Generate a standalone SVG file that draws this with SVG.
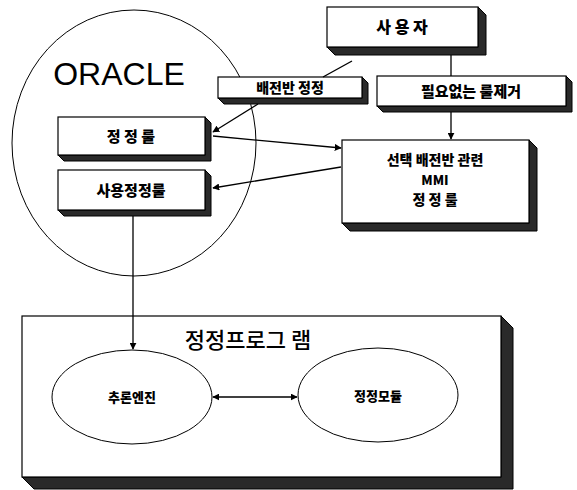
<svg xmlns="http://www.w3.org/2000/svg" width="577" height="490" viewBox="0 0 577 490">
<style>
.box{fill:#fff;stroke:#000;stroke-width:1.2}
.sh{fill:#2a2a2a;stroke:#000;stroke-width:1}
.ell{fill:#fff;stroke:#000;stroke-width:1}
.t{font-family:"Noto Sans CJK KR",sans-serif;font-weight:900;text-anchor:middle;fill:#000}
.ln{stroke:#000;stroke-width:1.3;fill:none}
</style>
<defs>
<marker id="ah" viewBox="0 0 10 10" refX="9" refY="5" markerWidth="7" markerHeight="7" orient="auto-start-reverse" markerUnits="userSpaceOnUse">
<path d="M0,0 L10,5 L0,10 z" fill="#000"/>
</marker>
</defs>
<rect width="577" height="490" fill="#fff"/>

<g id="oracle">
<ellipse class="ell" cx="134" cy="143" rx="122" ry="133"/>
<text x="119" y="85" font-family="Liberation Sans,Arial,sans-serif" font-size="32" text-anchor="middle">ORACLE</text>
</g>

<g id="program">
<polygon class="sh" points="22,477 34,489 513,489 513,328 501,316 501,477"/>
<rect class="box" x="22" y="316" width="479" height="161"/>
<text class="t" x="248" y="348" font-size="22" style="font-weight:500">정정프로그 램</text>
</g>

<g id="user">
<polygon class="sh" points="327,47 335,55 486,55 486,15 478,7 478,47"/>
<rect class="box" x="327" y="7" width="151" height="40"/>
<text class="t" x="402" y="33" font-size="16">사 용 자</text>
</g>

<g id="panel">
<polygon class="sh" points="218,98 224,104 368,104 368,83 362,77 362,98"/>
<rect class="box" x="218" y="77" width="144" height="21"/>
<text class="t" x="290" y="93" font-size="14">배전반 정정</text>
</g>

<g id="remove">
<polygon class="sh" points="377,106 383,112 572,112 572,82 566,76 566,106"/>
<rect class="box" x="377" y="76" width="189" height="30"/>
<text class="t" x="471" y="97" font-size="15">필요없는  룰제거</text>
</g>

<g id="rules">
<polygon class="sh" points="58,155 64,161 211,161 211,123 205,117 205,155"/>
<rect class="box" x="58" y="117" width="147" height="38"/>
<text class="t" x="131" y="142" font-size="15">정 정 룰</text>
</g>

<g id="userrules">
<polygon class="sh" points="58,210 64,216 211,216 211,176 205,170 205,210"/>
<rect class="box" x="58" y="170" width="147" height="40"/>
<text class="t" x="131" y="196" font-size="15">사용정정룰</text>
</g>

<g id="select">
<polygon class="sh" points="342,223 350,231 537,231 537,148 529,140 529,223"/>
<rect class="box" x="342" y="140" width="187" height="83"/>
<text class="t" x="435" y="165" font-size="14">선택  배전반 관련</text>
<text class="t" x="435" y="185" font-size="13">MMI</text>
<text class="t" x="435" y="205" font-size="14">정 정 룰</text>
</g>

<g id="engine">
<ellipse class="ell" cx="132" cy="397" rx="80" ry="47"/>
<text class="t" x="132" y="402" font-size="13">추론엔진</text>
</g>

<g id="module">
<ellipse class="ell" cx="378" cy="395" rx="80" ry="47"/>
<text class="t" x="378" y="401" font-size="13">정정모듈</text>
</g>

<g id="connectors">
<line class="ln" x1="258" y1="104" x2="213" y2="132" marker-end="url(#ah)"/>
<line class="ln" x1="213" y1="136" x2="341" y2="148" marker-end="url(#ah)"/>
<line class="ln" x1="341" y1="167" x2="213" y2="188" marker-end="url(#ah)"/>
<line class="ln" x1="352" y1="61" x2="323" y2="77"/>
<line class="ln" x1="451" y1="55" x2="451" y2="76"/>
<line class="ln" x1="451" y1="112" x2="451" y2="139" marker-end="url(#ah)"/>
<line class="ln" x1="133" y1="216" x2="133" y2="349" marker-end="url(#ah)"/>
<line class="ln" x1="213" y1="397" x2="297" y2="397" marker-start="url(#ah)" marker-end="url(#ah)"/>
</g>
</svg>
